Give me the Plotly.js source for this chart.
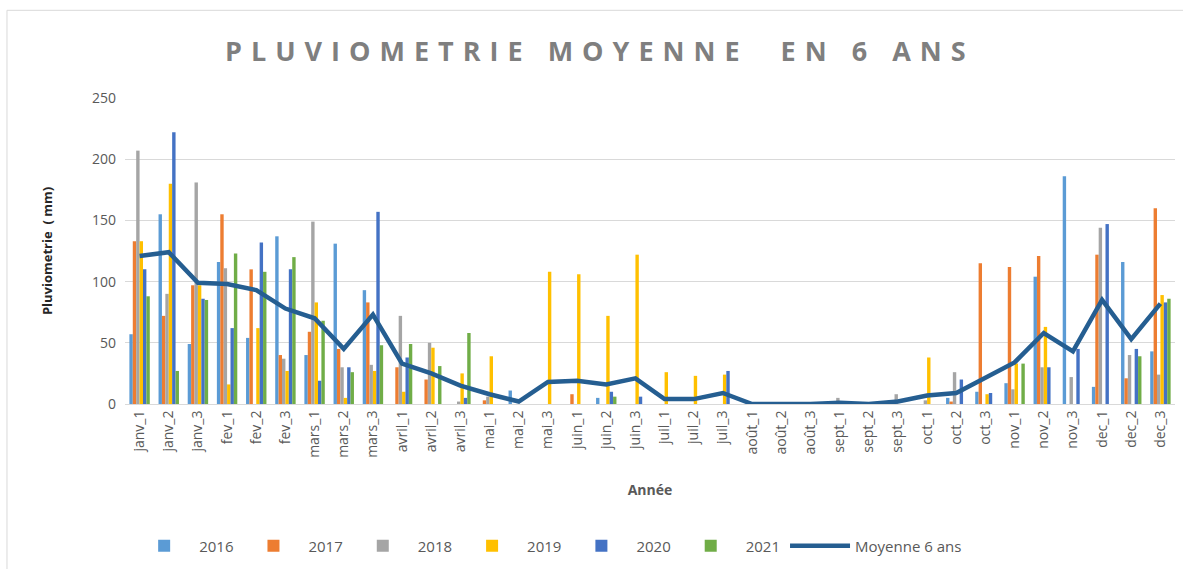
<!DOCTYPE html>
<html>
<head>
<meta charset="utf-8">
<script src="https://cdn.plot.ly/plotly-3.0.1.min.js"></script>
<style>
html,body{margin:0;padding:0;background:#fff;}
#chart{width:1183px;height:569px;}
.gtitle{letter-spacing:9px;}
</style>
</head>
<body>
<div id="chart"></div>
<script>
const categories = [
  "janv_1","janv_2","janv_3","fev_1","fev_2","fev_3","mars_1","mars_2","mars_3",
  "avril_1","avril_2","avril_3","mai_1","mai_2","mai_3","juin_1","juin_2","juin_3",
  "juil_1","juil_2","juil_3","août_1","août_2","août_3","sept_1","sept_2","sept_3",
  "oct_1","oct_2","oct_3","nov_1","nov_2","nov_3","dec_1","dec_2","dec_3"
];
const y2016 = [57,155,49,116,54,137,40,131,93, 0,0,0, 0,11,0, 0,5,0, 0,0,0, 0,0,0, 0,0,3, 0,5,10, 17,104,186, 14,116,43];
const y2017 = [133,72,97,155,110,40,59,45,83, 30,20,0, 3,0,0, 8,0,0, 0,0,0, 0,0,0, 0,0,0, 0,2,115, 112,121,0, 122,21,160];
const y2018 = [207,90,181,111,0,37,149,30,32, 72,50,2, 6,0,0, 0,0,0, 0,0,0, 0,0,0, 5,0,8, 3,26,0, 12,30,22, 144,40,24];
const y2019 = [133,180,97,16,62,27,83,5,27, 10,46,25, 39,0,108, 106,72,122, 26,23,24, 0,0,0, 0,0,0, 38,0,8, 33,63,0, 0,0,89];
const y2020 = [110,222,86,62,132,110,19,30,157, 38,0,5, 0,0,0, 0,10,6, 0,0,27, 0,0,0, 0,0,0, 0,20,9, 0,30,45, 147,45,83];
const y2021 = [88,27,85,123,108,120,68,26,48, 49,31,58, 0,0,0, 0,6,0, 0,0,0, 0,0,0, 0,0,0, 0,0,0, 33,0,0, 0,39,86];
const moyenne = [121,124,99,98,93,78,70,45,73, 33,25,15, 8,2,18, 19,16,21, 4,4,9, 0,0,0, 1,0,2, 7,9,22, 34,58,43, 85,53,82];

const seriesNames = ["2016","2017","2018","2019","2020","2021"];
const seriesData = [y2016,y2017,y2018,y2019,y2020,y2021];
const seriesColors = ["#5B9BD5","#ED7D31","#A5A5A5","#FFC000","#4472C4","#70AD47"];

const traces = seriesNames.map((n,i)=>({
  type:'bar', name:n, x:categories, y:seriesData[i],
  marker:{color:seriesColors[i]}
}));
traces.push({
  type:'scatter', mode:'lines', name:'Moyenne 6 ans', x:categories, y:moyenne,
  line:{color:'#255E91', width:4.5}
});

const layout = {
  width:1183, height:569,
  margin:{l:125, r:8, t:98, b:164},
  paper_bgcolor:'#fff', plot_bgcolor:'#fff',
  font:{family:'"Open Sans", "Liberation Sans", sans-serif', color:'#595959'},
  title:{text:'PLUVIOMETRIE MOYENNE  EN 6 ANS', x:0.507, xanchor:'center', y:0.91, yanchor:'middle',
         font:{size:27, color:'#7f7f7f', family:'"Open Sans", sans-serif', weight:700}},
  barmode:'group', bargap:0.3, bargroupgap:0,
  xaxis:{
    type:'category', tickangle:-90, tickfont:{size:14, color:'#595959'}, automargin:false,
    showgrid:false, showline:true, linecolor:'#d9d9d9', ticks:'',
    title:{text:'Année', font:{size:14, color:'#595959', weight:700}, standoff:28}
  },
  yaxis:{
    range:[0,250], dtick:50, tickfont:{size:14, color:'#595959'}, automargin:false,
    gridcolor:'#d9d9d9', zeroline:false, showline:false, ticks:'',
    ticklabelstandoff:8,
    title:{text:'Pluviometrie  ( mm)', font:{size:13, color:'#262626', weight:700}, standoff:36}
  },
  legend:{orientation:'h', x:0.403, xanchor:'center', y:-0.459, yanchor:'middle',
          font:{size:15, color:'#595959'}, itemwidth:60,
          traceorder:'normal'},
  shapes:[{type:'rect', xref:'paper', yref:'paper', x0:-0.1124, x1:1.02, y0:-0.55, y1:1.2866,
           line:{color:'#d9d9d9', width:1}, fillcolor:'rgba(0,0,0,0)', layer:'below'}]
};

Plotly.newPlot('chart', traces, layout, {displayModeBar:false, staticPlot:true});
</script>
</body>
</html>
